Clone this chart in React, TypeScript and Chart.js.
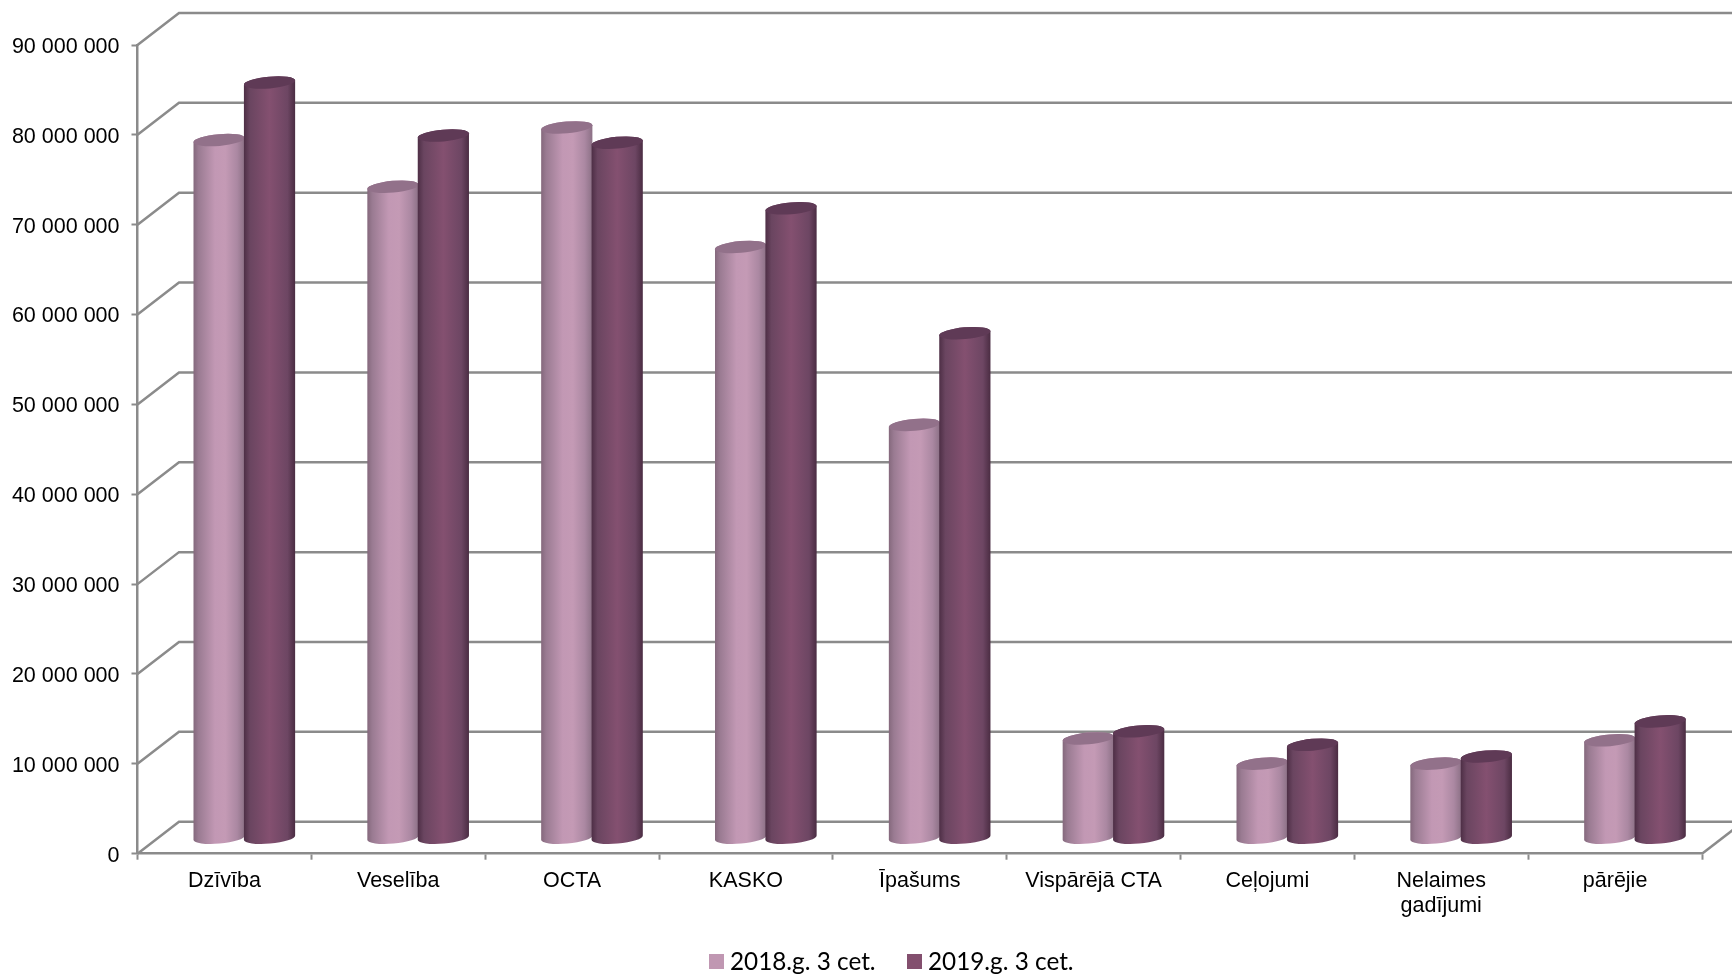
import React, { useEffect, useRef } from "react";
import { Chart, BarElement, registerables } from "chart.js";

Chart.register(...registerables);

const categories = ["Dzīvība", "Veselība", "OCTA", "KASKO", "Īpašums", "Vispārējā CTA", "Ceļojumi", ["Nelaimes", "gadījumi"], "pārējie"];
const values2018 = [77700000, 72500000, 79100000, 65800000, 46000000, 11100000, 8300000, 8300000, 10900000];
const values2019 = [84100000, 78200000, 77400000, 70100000, 56200000, 11900000, 10400000, 9100000, 13000000];
const label2018 = "2018.g. 3 cet.";
const label2019 = "2019.g. 3 cet.";
const yMax = 90000000;
const yStep = 10000000;

const COLOR_2018 = "#c097b2";
const COLOR_2019 = "#834f6e";
const GRID = "#8b8b8b";
const LINE = 2.5;
const LEFT = 137.5, RIGHT = 1702, TOP = 45, BOTTOM = 853.7;
const DEPTH_X = 41.5, DEPTH_Y = 32;
const BAR_DX = 19.9, BAR_DY = 15.5;
const TILT = (-5 * Math.PI) / 180;

const shades: Record<string, { stops: [number, string][]; cap: string }> = {
  [COLOR_2018]: {
    stops: [[0, "#84687c"], [0.1, "#9a7b92"], [0.42, "#c298b4"], [0.62, "#c49ab5"], [0.85, "#ab88a2"], [1, "#8b7085"]],
    cap: "#92718a",
  },
  [COLOR_2019]: {
    stops: [[0, "#4d2e45"], [0.12, "#6a4560"], [0.5, "#845070"], [0.85, "#6d4663"], [1, "#4a2c42"]],
    cap: "#5f3a56",
  },
};

// Bars are drawn as cylinders, from the element geometry computed by Chart.js.
(BarElement.prototype as any).draw = function (ctx: CanvasRenderingContext2D) {
  const shade = shades[this.options.backgroundColor];
  const rx = this.width / 2 + 0.5;
  const ry = 5.9;
  const g = ctx.createLinearGradient(this.x - rx, 0, this.x + rx, 0);
  shade.stops.forEach(([o, c]) => g.addColorStop(o, c));
  ctx.save();
  ctx.beginPath();
  ctx.ellipse(this.x, this.base, rx, ry, TILT, 0, Math.PI);
  ctx.ellipse(this.x, this.y, rx, ry, TILT, Math.PI, 2 * Math.PI);
  ctx.closePath();
  ctx.fillStyle = g;
  ctx.fill();
  ctx.beginPath();
  ctx.ellipse(this.x, this.y, rx, ry, TILT, 0, 2 * Math.PI);
  ctx.fillStyle = shade.cap;
  ctx.fill();
  ctx.restore();
};

const cylinderScene = {
  id: "cylinderScene",
  beforeDatasetsDraw(chart: any) {
    const { ctx, scales } = chart;
    const y = scales.y;
    ctx.save();
    ctx.strokeStyle = GRID;
    ctx.lineWidth = LINE;
    y.ticks.forEach((t: any) => {
      const py = y.getPixelForValue(t.value);
      ctx.beginPath();
      ctx.moveTo(LEFT, py);
      ctx.lineTo(LEFT + DEPTH_X, py - DEPTH_Y);
      ctx.lineTo(1732, py - DEPTH_Y);
      ctx.stroke();
    });
    const py0 = y.getPixelForValue(0);
    ctx.beginPath();
    ctx.moveTo(RIGHT, py0);
    ctx.lineTo(RIGHT + DEPTH_X, py0 - DEPTH_Y);
    ctx.stroke();
    ctx.restore();
  },
  beforeDatasetDraw() {
    return false;
  },
  afterDatasetsDraw(chart: any) {
    const { ctx } = chart;
    ctx.save();
    ctx.translate(BAR_DX, -BAR_DY);
    chart.data.datasets.forEach((_: any, i: number) => chart.getDatasetMeta(i).controller.draw());
    ctx.restore();
  },
  afterDraw(chart: any) {
    const { ctx } = chart;
    const boxes = [709, 907];
    ctx.save();
    ctx.font = '24.3px Lato, "Noto Sans", sans-serif';
    ctx.textBaseline = "alphabetic";
    chart.data.datasets.forEach((ds: any, i: number) => {
      ctx.fillStyle = ds.backgroundColor;
      ctx.fillRect(boxes[i], 954, 15, 15);
      ctx.fillStyle = "#000";
      ctx.fillText(ds.label, boxes[i] + 21, 969.5);
    });
    ctx.restore();
  },
};

export default function App() {
  const ref = useRef<HTMLCanvasElement>(null);
  useEffect(() => {
    const font = { family: '"Liberation Sans", Arial, sans-serif', size: 21.5 };
    const chart = new Chart(ref.current as HTMLCanvasElement, {
      type: "bar",
      data: {
        labels: categories as any,
        datasets: [
          { label: label2018, data: values2018, backgroundColor: COLOR_2018 },
          { label: label2019, data: values2019, backgroundColor: COLOR_2019 },
        ],
      },
      options: {
        responsive: false,
        animation: false,
        devicePixelRatio: 1,
        layout: { padding: { top: TOP, right: 1732 - RIGHT, bottom: 0, left: 0 } },
        plugins: { legend: { display: false }, title: { display: false }, tooltip: { enabled: false } },
        datasets: { bar: { categoryPercentage: 0.58, barPercentage: 1 } },
        scales: {
          x: {
            afterFit(s: any) { s.height = 974 - BOTTOM; },
            border: { color: GRID, width: LINE },
            grid: { display: true, drawOnChartArea: false, drawTicks: true, tickLength: 6, tickWidth: 2, tickColor: GRID, color: GRID, offset: true },
            ticks: { color: "#000", font, padding: 8, maxRotation: 0, autoSkip: false },
          },
          y: {
            min: 0,
            max: yMax,
            afterFit(s: any) { s.width = LEFT; },
            border: { color: GRID, width: LINE },
            grid: { display: true, drawOnChartArea: false, drawTicks: true, tickLength: 6, tickWidth: 2, tickColor: GRID, color: GRID },
            ticks: {
              stepSize: yStep,
              color: "#000",
              font,
              padding: 12,
              labelOffset: 2,
              callback: (v: any) => String(v).replace(/\B(?=(\d{3})+$)/g, " "),
            },
          },
        },
      },
      plugins: [cylinderScene],
    } as any);
    return () => chart.destroy();
  }, []);
  return (
    <div style={{ position: "absolute", left: 0, top: 0, width: 1732, height: 974, background: "#fff", overflow: "hidden" }}>
      <canvas ref={ref} width={1732} height={974} style={{ display: "block", width: 1732, height: 974 }} />
    </div>
  );
}
